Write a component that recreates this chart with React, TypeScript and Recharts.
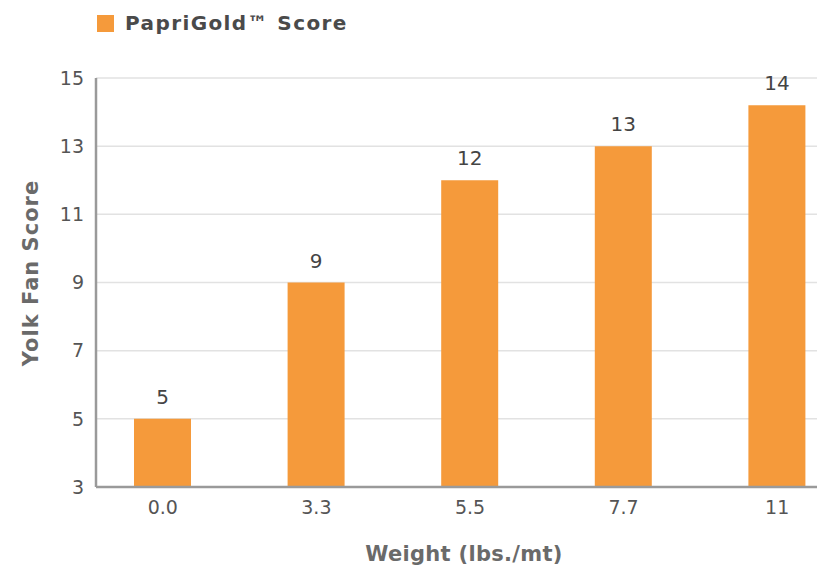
import { BarChart, Bar, XAxis, YAxis, CartesianGrid, LabelList } from 'recharts';

const weights = ['0.0', '3.3', '5.5', '7.7', '11'];
const scores = [5, 9, 12, 13, 14.2];
const yTicks = [3, 5, 7, 9, 11, 13, 15];

const data = weights.map((w, i) => ({ weight: w, score: scores[i] }));

const ORANGE = '#F59A3B';
const TEXT = '#555';
const FONT = '"DejaVu Sans", Verdana, sans-serif';

export default function App() {
  return (
    <div style={{ position: 'absolute', left: 0, top: 0, width: 817, height: 570, overflow: 'hidden', background: '#fff', fontFamily: FONT }}>
      {/* legend sits above the plot, outside recharts so it doesn't eat into the margin */}
      <div style={{ position: 'absolute', left: 97, top: 11, display: 'flex', alignItems: 'center', gap: 11 }}>
        <div style={{ width: 17, height: 17, background: ORANGE }} />
        <span style={{ fontSize: 20, fontWeight: 700, color: '#4a4a4a', letterSpacing: 1.4 }}>PapriGold™ Score</span>
      </div>
      <BarChart
        width={854}
        height={570}
        data={data}
        margin={{ top: 78, right: 0, bottom: 0, left: 0 }}
        style={{ fontFamily: FONT }}
      >
        <CartesianGrid vertical={false} stroke="#e2e2e2" strokeWidth={1.5} />
        <XAxis
          dataKey="weight"
          height={83}
          padding={{ left: -10, right: 0 }}
          axisLine={{ stroke: '#9a9a9a', strokeWidth: 2.5 }}
          tickLine={false}
          tickSize={0}
          tickMargin={14}
          tick={{ fill: TEXT, fontSize: 19 }}
          label={{
            content: () => (
              <text x={464} y={561} textAnchor="middle" fill="#6a6a6a" fontSize={21} fontWeight={600} letterSpacing={0.3} fontFamily={FONT}>
                Weight (lbs./mt)
              </text>
            ),
          }}
        />
        <YAxis
          domain={[3, 15]}
          ticks={yTicks}
          width={96}
          axisLine={{ stroke: '#9a9a9a', strokeWidth: 2.5 }}
          tickLine={false}
          tickSize={0}
          tickMargin={12}
          tick={{ fill: TEXT, fontSize: 19 }}
          label={{
            content: () => (
              <text
                x={31}
                y={273}
                textAnchor="middle"
                dominantBaseline="central"
                transform="rotate(-90 31 273)"
                fill="#6a6a6a"
                fontSize={21}
                fontWeight={600}
                letterSpacing={1}
                fontFamily={FONT}
              >
                Yolk Fan Score
              </text>
            ),
          }}
        />
        <Bar dataKey="score" fill={ORANGE} barSize={57} isAnimationActive={false}>
          <LabelList
            dataKey="score"
            position="top"
            offset={15}
            fill="#444"
            fontSize={20}
            formatter={(v: number) => Math.round(v)}
          />
        </Bar>
      </BarChart>
    </div>
  );
}
